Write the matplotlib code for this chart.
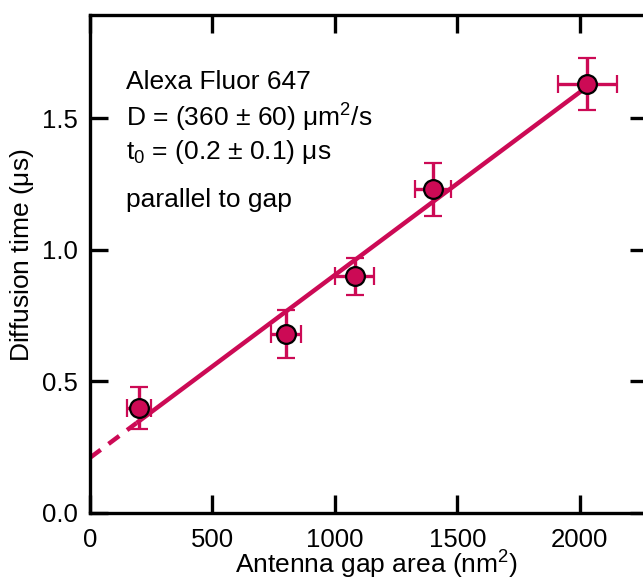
import matplotlib
matplotlib.use("Agg")
import matplotlib.pyplot as plt
import numpy as np

# data
gap_area = [200, 800, 1080, 1400, 2030]
gap_area_err = [50, 60, 80, 75, 120]
diff_time = [0.40, 0.68, 0.90, 1.23, 1.63]
diff_time_err = [0.08, 0.09, 0.07, 0.10, 0.10]

fit_intercept = 0.21
fit_slope = 0.000695
fit_solid_range = [190, 2010]
fit_dash_range = [0, 190]

x_ticks = [0, 500, 1000, 1500, 2000]
y_ticks = [0.0, 0.5, 1.0, 1.5]

notes = ["Alexa Fluor 647",
         r"D = (360 $\pm$ 60) $\mathregular{\mu m^2}$/s",
         r"$\mathregular{t_0}$ = (0.2 $\pm$ 0.1) $\mathregular{\mu}$s",
         "parallel to gap"]

red = "#cc0a55"

plt.rcParams["font.family"] = ["Liberation Sans", "DejaVu Sans"]
plt.rcParams["mathtext.fontset"] = "custom"
plt.rcParams["mathtext.rm"] = "Liberation Sans"


def fit(x):
    return fit_intercept + fit_slope * np.asarray(x)


def main():
    fig = plt.figure(figsize=(6.43, 5.82), dpi=100)
    ax = fig.add_axes([90 / 643, 69 / 582, 558 / 643, 498 / 582])

    xs = np.array(fit_solid_range)
    ax.plot(xs, fit(xs), color=red, lw=3.2, solid_capstyle="butt", zorder=2)
    xd = np.array(fit_dash_range)
    ax.plot(xd, fit(xd), color=red, lw=3.2, ls=(0, (3, 2.2)), zorder=2)

    ax.errorbar(gap_area, diff_time, xerr=gap_area_err, yerr=diff_time_err,
                fmt="o", color=red, ms=13.5, mfc=red, mec="black", mew=1.6,
                elinewidth=2.4, capsize=6.5, capthick=2.4, zorder=3)

    ax.set_xlim(0, 2278)
    ax.set_ylim(0, 1.893)
    ax.set_xticks(x_ticks)
    ax.set_xticklabels([str(t) for t in x_ticks])
    ax.set_yticks(y_ticks)
    ax.set_yticklabels(["%.1f" % t for t in y_ticks])
    ax.tick_params(direction="in", length=13, width=2.4, labelsize=18.5,
                   top=True, right=True, colors="black")
    ax.tick_params(axis="x", pad=11)
    ax.tick_params(axis="y", pad=9)
    for s in ax.spines.values():
        s.set_linewidth(2.4)

    ax.set_xlabel(r"Antenna gap area (nm$\mathregular{^2}$)", fontsize=19, va="baseline")
    ax.xaxis.set_label_coords(0.514, -0.1225)
    ax.set_ylabel(r"Diffusion time ($\mathregular{\mu}$s)", fontsize=19)
    ax.yaxis.set_label_coords(-0.097, 0.518)

    ys = [0.865, 0.793, 0.725, 0.629]
    for t, y in zip(notes, ys):
        ax.text(0.065, y, t, transform=ax.transAxes, fontsize=19, va="center", ha="left")

    fig.savefig("out.png", dpi=100)
    return 0


if __name__ == "__main__":
    main()
